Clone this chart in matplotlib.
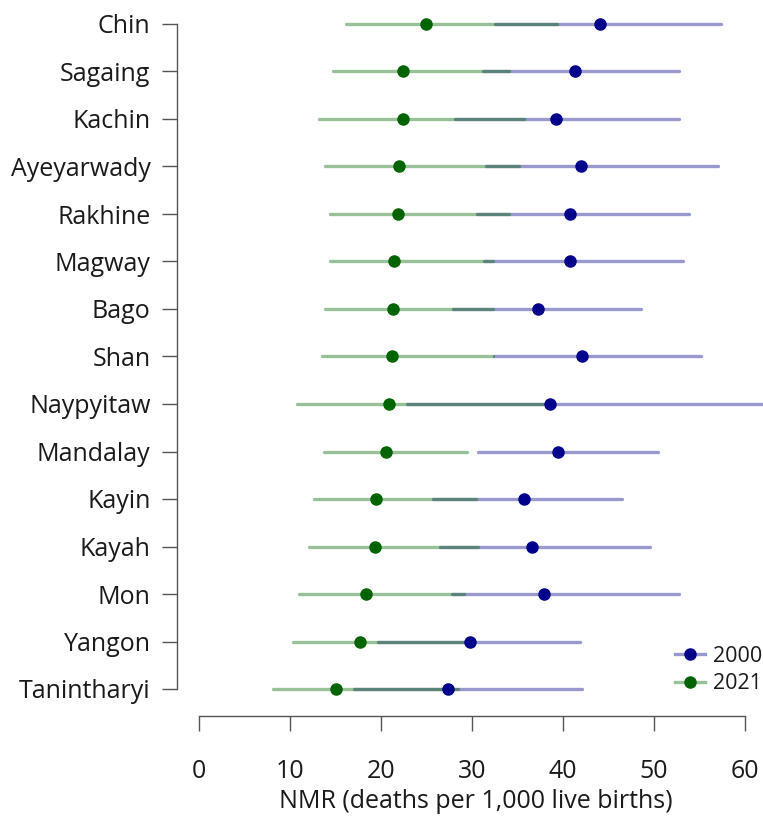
import matplotlib
matplotlib.use("Agg")
import matplotlib.pyplot as plt
from matplotlib.lines import Line2D

plt.rcParams['font.family'] = ['Open Sans', 'DejaVu Sans']

# regions, top to bottom
regions = ["Chin", "Sagaing", "Kachin", "Ayeyarwady", "Rakhine", "Magway", "Bago",
           "Shan", "Naypyitaw", "Mandalay", "Kayin", "Kayah", "Mon", "Yangon",
           "Tanintharyi"]

# NMR 2000: estimate and uncertainty interval
nmr_2000 = [44.1, 41.3, 39.2, 42.0, 40.8, 40.8, 37.2, 42.1, 38.6, 39.5, 35.7, 36.6, 37.9, 29.8, 27.4]
low_2000 = [32.5, 31.2, 28.1, 31.5, 30.6, 31.3, 27.9, 32.4, 22.9, 30.7, 25.7, 26.5, 27.8, 19.7, 17.0]
high_2000 = [57.4, 52.7, 52.7, 57.0, 53.8, 53.2, 48.6, 55.2, 62.3, 50.4, 46.5, 49.6, 52.7, 41.9, 42.1]

# NMR 2021: estimate and uncertainty interval
nmr_2021 = [24.9, 22.4, 22.4, 22.0, 21.9, 21.4, 21.3, 21.2, 20.9, 20.5, 19.5, 19.3, 18.4, 17.7, 15.0]
low_2021 = [16.1, 14.7, 13.2, 13.8, 14.4, 14.4, 13.8, 13.5, 10.8, 13.7, 12.6, 12.1, 11.0, 10.3, 8.1]
high_2021 = [39.3, 34.1, 35.7, 35.2, 34.1, 32.3, 32.3, 32.3, 37.8, 29.5, 30.4, 30.7, 29.1, 29.5, 28.5]

blue = "#00008b"
green = "#006400"
txt = "#1a1a1a"

fig = plt.figure(figsize=(7.63, 8.16), dpi=100)
W, H = 763, 816
ax = fig.add_axes([177 / W, 1 - 716 / H, (W - 177) / W, (716 - 10) / H])

n = len(regions)
ypos = [n - 1 - i for i in range(n)]

for i in range(n):
    y = ypos[i]
    ax.plot([low_2000[i], high_2000[i]], [y, y], color=blue, alpha=0.4, lw=2.4,
            solid_capstyle="round", clip_on=False, zorder=2)
    ax.plot([low_2021[i], high_2021[i]], [y, y], color=green, alpha=0.4, lw=2.4,
            solid_capstyle="round", clip_on=False, zorder=2)

ax.plot(nmr_2000, ypos, "o", color=blue, ms=8, zorder=3, clip_on=False)
ax.plot(nmr_2021, ypos, "o", color=green, ms=8, zorder=3, clip_on=False)

px = 9.1
ax.set_xlim(-22 / px, (W - 199) / px)
ax.set_ylim(-27 / 47.5, n - 1 + 14 / 47.5)

for s in ["top", "right"]:
    ax.spines[s].set_visible(False)
ax.spines["left"].set_bounds(0, n - 1)
ax.spines["bottom"].set_bounds(0, 60)
for s in ["left", "bottom"]:
    ax.spines[s].set_color("#555555")
    ax.spines[s].set_linewidth(1.0)

ax.set_yticks(ypos)
ax.set_yticklabels(regions)
ax.set_xticks(range(0, 61, 10))
ax.tick_params(axis="y", length=11, width=1.0, color="#555555", pad=8,
               labelsize=18, labelcolor=txt)
ax.tick_params(axis="x", length=11, width=1.0, color="#555555", pad=20,
               labelsize=18, labelcolor=txt)

fig.text(476 / W, 1 - 802 / H, "NMR (deaths per 1,000 live births)",
         ha="center", va="center", fontsize=18, color=txt)

handles = [
    Line2D([], [], color=(0, 0, 0.545, 0.4), lw=2.4, marker="o", ms=8,
           markerfacecolor=blue, markeredgecolor=blue),
    Line2D([], [], color=(0, 0.392, 0, 0.4), lw=2.4, marker="o", ms=8,
           markerfacecolor=green, markeredgecolor=green),
]
fig.legend(handles, ["2000", "2021"], loc="center left",
           bbox_to_anchor=(675 / W, 1 - 670 / H), frameon=False, fontsize=15.5,
           borderpad=0, borderaxespad=0, handlelength=1.4, handletextpad=0.37,
           labelspacing=0.3, labelcolor=txt)

fig.savefig("out.png", dpi=100)
